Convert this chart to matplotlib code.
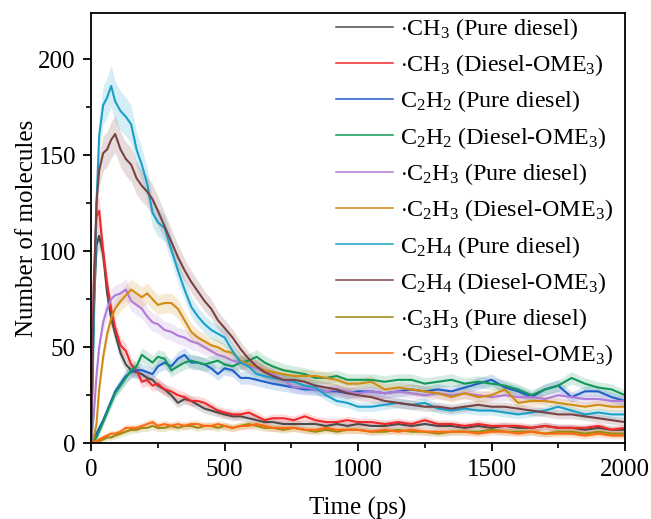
import numpy as np
import matplotlib
matplotlib.use("Agg")
import matplotlib.pyplot as plt
from matplotlib.ticker import MultipleLocator

plt.rcParams['font.family'] = ['Liberation Serif', 'DejaVu Serif']
plt.rcParams['mathtext.fontset'] = 'custom'
plt.rcParams['mathtext.rm'] = 'Liberation Serif'
plt.rcParams['mathtext.it'] = 'Liberation Serif:italic'

# time grid (ps)
time_ps = [0, 10, 20, 30, 45, 60, 75, 90,
           110, 130, 150, 170, 190, 210, 230, 250,
           275, 300, 325, 350, 375, 400, 425, 450, 475, 500,
           530, 560, 590, 620, 650, 680,
           720, 760, 800, 840, 880, 920, 960, 1000,
           1050, 1100, 1150, 1200, 1250, 1300, 1350, 1400, 1450, 1500,
           1550, 1600, 1650, 1700, 1750, 1800, 1850, 1900, 1950, 2000]

ch3_pure = [0, 70, 103, 108, 98, 78, 65, 57,
            47, 41, 38, 37, 36, 34, 33, 30,
            28, 25, 21, 23, 22, 20, 18, 17, 16, 15,
            14, 14, 13, 12, 11, 11,
            10, 10, 10, 10, 9, 10, 9, 10,
            9, 9, 10, 9, 10, 9, 9, 8, 9, 8,
            9, 8, 8, 9, 8, 8, 7, 8, 7, 7]
ch3_ome = [0, 85, 118, 121, 100, 83, 70, 60,
           51, 48, 41, 38, 32, 33, 30, 31,
           28, 27, 25, 24, 22, 22, 21, 19, 17, 16,
           15, 15, 16, 14, 12, 13,
           13, 12, 14, 12, 11, 11, 12, 11,
           11, 10, 11, 10, 12, 10, 10, 9, 10, 9,
           9, 9, 8, 9, 8, 8, 8, 9, 7, 8]
c2h2_pure = [0, 2, 5, 8, 12, 17, 22, 27,
             31, 35, 37, 38, 38, 37, 36, 40,
             42, 40, 44, 46, 42, 42, 41, 39, 36, 39,
             38, 34, 34, 33, 32, 31,
             30, 29, 28, 28, 27, 27, 26, 27,
             27, 26, 27, 28, 27, 28, 27, 29, 31, 33,
             29, 27, 24, 28, 30, 24, 27, 27, 24, 22]
c2h2_ome = [0, 1, 3, 6, 11, 16, 21, 26,
            30, 34, 38, 40, 46, 44, 42, 45,
            44, 38, 40, 42, 43, 42, 41, 42, 43, 41,
            40, 42, 43, 45, 42, 40,
            38, 37, 36, 34, 34, 35, 33, 33,
            33, 32, 33, 33, 31, 32, 33, 31, 32, 31,
            30, 28, 25, 28, 30, 34, 31, 29, 28, 25]
c2h3_pure = [0, 15, 35, 50, 63, 70, 75, 77,
             78, 80, 74, 72, 70, 66, 63, 62,
             59, 58, 56, 55, 53, 52, 50, 48, 46, 45,
             43, 42, 40, 39, 37, 36,
             33, 29, 29, 28, 27, 28, 27, 26,
             27, 26, 27, 26, 25, 26, 25, 26, 25, 24,
             25, 24, 24, 23, 25, 24, 23, 23, 22, 22]
c2h3_ome = [0, 3, 10, 28, 45, 57, 65, 70,
            74, 77, 80, 78, 76, 78, 75, 72,
            73, 73, 70, 64, 58, 55, 53, 51, 50, 48,
            47, 43, 41, 40, 38, 37,
            36, 35, 35, 35, 34, 33, 31, 31,
            32, 28, 29, 28, 27, 26, 24, 26, 24, 25,
            28, 21, 22, 22, 21, 20, 19, 20, 19, 19]
c2h4_pure = [0, 60, 125, 160, 176, 180, 186, 178,
             173, 170, 166, 153, 145, 135, 120, 115,
             112, 101, 90, 80, 71, 66, 62, 59, 57, 55,
             48, 42, 40, 36, 35, 34,
             33, 32, 30, 29, 25, 22, 21, 19,
             19, 20, 21, 20, 21, 18, 17, 18, 17, 17,
             16, 15, 16, 17, 19, 17, 15, 16, 15, 15]
c2h4_ome = [0, 80, 125, 142, 151, 153, 158, 161,
            153, 148, 145, 138, 134, 131, 127, 121,
            113, 105, 97, 90, 84, 79, 74, 70, 64, 60,
            55, 49, 44, 40, 37, 35,
            33, 33, 32, 30, 29, 28, 26, 25,
            24, 22, 21, 20, 19, 19, 18, 19, 20, 19,
            19, 18, 17, 16, 15, 15, 14, 13, 12, 11]
c3h3_pure = [0, 0, 1, 1, 2, 3, 3, 4,
             5, 6, 7, 7, 8, 8, 9, 8,
             8, 9, 8, 9, 9, 8, 9, 9, 8, 9,
             8, 9, 10, 9, 8, 8,
             7, 8, 7, 6, 7, 6, 7, 7,
             6, 6, 7, 6, 6, 5, 6, 6, 6, 7,
             6, 6, 6, 5, 6, 6, 5, 6, 5, 5]
c3h3_ome = [0, 1, 1, 2, 3, 4, 5, 5,
            6, 8, 8, 8, 9, 10, 11, 9,
            10, 9, 10, 9, 10, 10, 9, 9, 10, 9,
            8, 9, 9, 10, 9, 8,
            8, 8, 7, 7, 8, 7, 7, 7,
            6, 7, 6, 7, 6, 6, 6, 6, 5, 6,
            6, 5, 6, 5, 5, 5, 4, 5, 4, 4]

labels = [r'$\cdot$CH$_3$ (Pure diesel)', r'$\cdot$CH$_3$ (Diesel-OME$_3$)',
          r'C$_2$H$_2$ (Pure diesel)', r'C$_2$H$_2$ (Diesel-OME$_3$)',
          r'$\cdot$C$_2$H$_3$ (Pure diesel)', r'$\cdot$C$_2$H$_3$ (Diesel-OME$_3$)',
          r'C$_2$H$_4$ (Pure diesel)', r'C$_2$H$_4$ (Diesel-OME$_3$)',
          r'$\cdot$C$_3$H$_3$ (Pure diesel)', r'$\cdot$C$_3$H$_3$ (Diesel-OME$_3$)']
series = [ch3_pure, ch3_ome, c2h2_pure, c2h2_ome, c2h3_pure,
          c2h3_ome, c2h4_pure, c2h4_ome, c3h3_pure, c3h3_ome]
colors = ['#4a4a4a', '#f0282a', '#1f5fc8', '#12995a', '#b07ad8',
          '#d18c14', '#1aa0c8', '#7a4242', '#9a8a10', '#ff6a12']

fig = plt.figure(figsize=(6.51, 5.19), dpi=100)
ax = fig.add_axes([0.140, 0.146, 0.820, 0.829])

t = np.array(time_ps)
for y, c, lab in zip(series, colors, labels):
    y = np.array(y, dtype=float)
    spread = 1.5 + 0.05 * y
    ax.fill_between(t, y - spread, y + spread, color=c, alpha=0.18, lw=0)
    ax.plot(t, y, color=c, lw=1.5, label=lab)

ax.set_xlim(0, 2000)
ax.set_ylim(0, 224)
ax.xaxis.set_major_locator(MultipleLocator(500))
ax.xaxis.set_minor_locator(MultipleLocator(250))
ax.yaxis.set_major_locator(MultipleLocator(50))
ax.yaxis.set_minor_locator(MultipleLocator(25))
ax.tick_params(which='major', direction='out', length=6, width=1.3, labelsize=18, pad=5)
ax.tick_params(which='minor', direction='out', length=3.5, width=1.2)
for s in ax.spines.values():
    s.set_linewidth(1.3)

ax.set_xlabel('Time (ps)', fontsize=18, labelpad=12)
ax.set_ylabel('Number of molecules', fontsize=18, labelpad=0)

leg = ax.legend(loc='upper right', bbox_to_anchor=(1.0, 1.021), frameon=False, fontsize=17.3,
                handlelength=2.35, labelspacing=0.43, borderpad=0.1, borderaxespad=0.4,
                handletextpad=0.3)
for h in leg.get_lines():
    h.set_linewidth(1.1)

fig.savefig('out.png', dpi=100)
